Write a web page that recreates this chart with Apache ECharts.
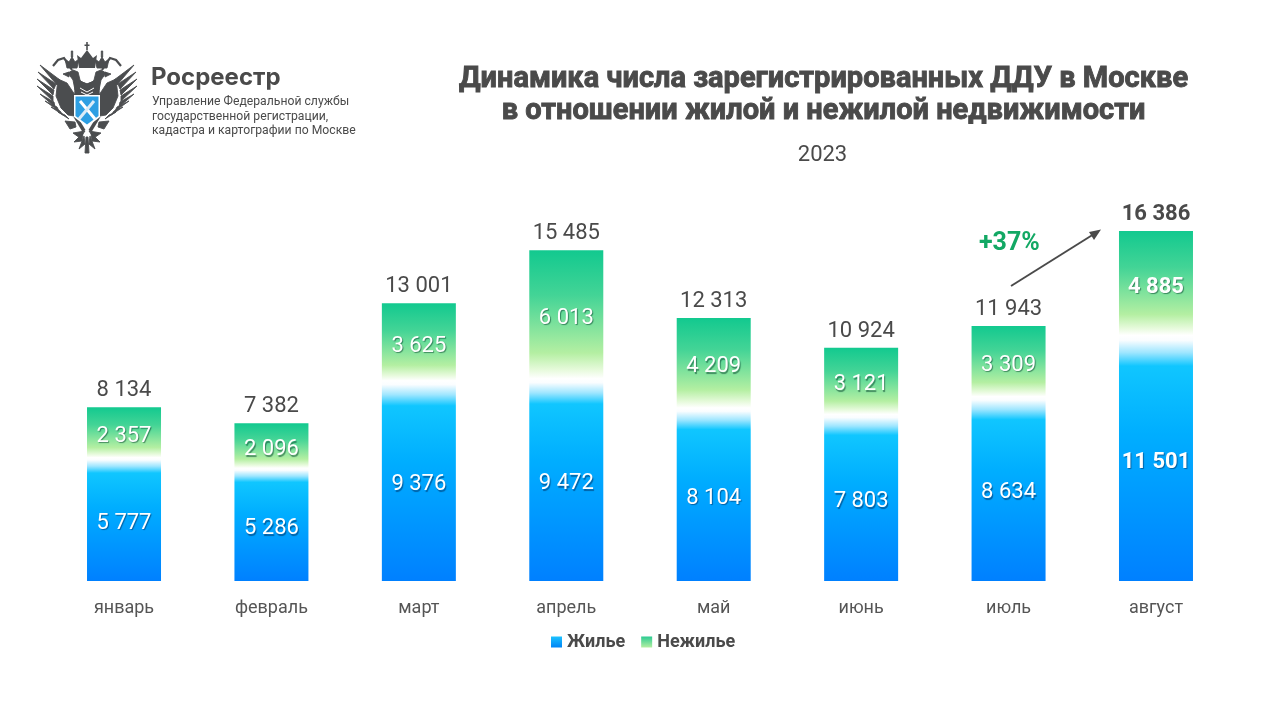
<!DOCTYPE html>
<html><head><meta charset="utf-8">
<style>html,body{margin:0;padding:0;background:#fff}#c{width:1280px;height:720px}</style>
<script src="https://cdn.jsdelivr.net/npm/echarts@6/dist/echarts.min.js"></script>
</head><body><div id="c"></div>
<script>
const months = ['январь','февраль','март','апрель','май','июнь','июль','август'];
const housing = [5777,5286,9376,9472,8104,7803,8634,11501];
const nonHousing = [2357,2096,3625,6013,4209,3121,3309,4885];
const totals = [8134,7382,13001,15485,12313,10924,11943,16386];
const titleText = 'Динамика числа зарегистрированных ДДУ в Москве\nв отношении жилой и нежилой недвижимости';
const yearText = '2023';
const growthText = '+37%';

const FONT = 'Roboto,sans-serif';
const DARK = '#4a4a4a';
const fmt = v => String(v).replace(/\B(?=(\d{3})+$)/g, ' ');
const grad = stops => ({type:'linear',x:0,y:0,x2:0,y2:1,colorStops:stops.map(s=>({offset:s[0],color:s[1]}))});
const blueGrad = grad([[0,'#ffffff'],[0.02,'#fafdff'],[0.07,'#9fe6ff'],[0.125,'#10c6ff'],[0.4,'#00aeff'],[1,'#0080ff']]);
const greenGrad = grad([[0,'#12c98f'],[0.35,'#43d496'],[0.8,'#b4efa2'],[0.93,'#e6fadb'],[1,'#ffffff']]);
const last = months.length-1;
const inLabel = (v,i) => ({value:v,label:{fontWeight:i===last?'bold':'normal'}});

// Logo: decorative, drawn in pixel space and mirrored about the vertical axis
const AX = 87;
const logoColor = '#4b4d4f';
const poly = (pts,fill) => ({type:'polygon',silent:true,shape:{points:pts},style:{fill:fill||logoColor}});
const feather = pts => ({type:'polygon',silent:true,shape:{points:pts},style:{fill:logoColor,stroke:logoColor,lineWidth:0.9}});
const stroke = (pts,w,c) => ({type:'polyline',silent:true,shape:{points:pts},style:{fill:'none',stroke:c||logoColor,lineWidth:w}});
const mirror = pts => pts.map(p=>[2*AX-p[0],p[1]]);
const halfPolys = [
  // primary feathers
  [[40,65],[60,80],[57,85]],
  [[38,72],[56,84],[54,89]],
  [[37,79],[54,90],[53,95]],
  [[37,86],[53,96],[53,101]],
  [[40,94],[54,102],[55,107]],
  [[45,101],[57,107],[59,111]],
  [[51,107],[60,111],[63,115]],
  [[58,112],[65,115],[69,119]],
  // shoulder
  [[58,79],[67,83],[75,95],[74,116],[68,115],[61,108],[56,96]],
  // neck and body above shield
  [[75,79],[87,84],[99,79],[99,96],[75,96]],
  [[68,73],[73,70],[78,72],[80,80],[87,90],[75,90],[73,80]],
  // beak
  [[69,72],[63,74],[69,77]],
  // side crown
  [[67,68],[65,59],[69,62],[72,57],[75,62],[79,59],[77,68]],
  [[71.3,51],[72.7,51],[72.7,57],[71.3,57]],
  // claws and scepter side
  [[65,121],[75,122],[76,127],[70,129]],
  // tail fan
  [[73,133],[85,131],[80,138]],
  [[74,142],[83,133],[82,141]],
  [[79,149],[84,136],[85,144]],
  [[85,153],[86,137],[87,137],[87,153]]
];
const halfLines = [
  [[[53,66],[58,60],[64,58],[72,70]],2.2],
  [[[75,116],[84,131]],3.5]
];
const logoShapes = [];
halfPolys.forEach(p=>{logoShapes.push(feather(p)); logoShapes.push(feather(mirror(p)));});
halfLines.forEach(l=>{logoShapes.push(stroke(l[0],l[1])); logoShapes.push(stroke(mirror(l[0]),l[1]));});
logoShapes.push(
  // central crown and cross
  poly([[79,68],[77,55],[81,58],[87,50],[93,58],[97,55],[95,68]]),
  poly([[86.2,42],[87.8,42],[87.8,50],[86.2,50]]),
  poly([[84.5,44.5],[89.5,44.5],[89.5,46],[84.5,46]]),
  // white stripes on the neck
  stroke([[80,88],[87,92],[94,88]],1,'#ffffff'),
  stroke([[81,92],[87,95],[93,92]],1,'#ffffff'),
  // shield with white edge
  poly([[74,95],[100,95],[100,117],[87,127],[74,117]],'#ffffff'),
  poly([[75.5,96.5],[98.5,96.5],[98.5,116],[87,124.5],[75.5,116]],'#2d9fe3'),
  {type:'line',silent:true,shape:{x1:80,y1:101,x2:95,y2:119},style:{stroke:'#ffffff',lineWidth:3}},
  {type:'line',silent:true,shape:{x1:94,y1:101,x2:79,y2:119},style:{stroke:'#dcecf7',lineWidth:3}}
);

const chart = echarts.init(document.getElementById('c'));
const shadow = c => ({textShadowColor:c,textShadowBlur:1,textShadowOffsetX:1,textShadowOffsetY:1.5});
chart.setOption({
  backgroundColor:'#ffffff',
  animation:false,
  title:[
    {text:titleText,left:818.5,top:59,textAlign:'center',
     textStyle:{fontFamily:FONT,fontSize:29,fontWeight:'bold',color:DARK,lineHeight:32,textBorderColor:DARK,textBorderWidth:0.9}},
    {text:yearText,left:817.5,top:139,textAlign:'center',
     textStyle:{fontFamily:FONT,fontSize:22,fontWeight:'normal',color:DARK}}
  ],
  legend:{
    left:546,top:628,itemWidth:11,itemHeight:11,itemGap:16,icon:'rect',
    data:[
      {name:'Жилье',itemStyle:{color:grad([[0,'#1cc2ff'],[1,'#0084f5']])}},
      {name:'Нежилье',itemStyle:{color:grad([[0,'#2ccb92'],[1,'#b4efa2']])}}
    ],
    textStyle:{fontFamily:FONT,fontSize:18,fontWeight:'bold',color:DARK}
  },
  grid:{left:50.3,width:1179.4,top:196.5,height:384.5},
  xAxis:{type:'category',data:months,axisLine:{show:false},axisTick:{show:false},
    axisLabel:{margin:18,fontFamily:FONT,fontSize:18,color:'#555555'}},
  yAxis:{type:'value',min:0,max:18000,show:false},
  series:[
    {name:'Жилье',type:'bar',stack:'a',barWidth:74,data:housing.map(inLabel),itemStyle:{color:blueGrad},
     label:{show:true,position:'inside',offset:[0,4],formatter:p=>fmt(p.value),fontFamily:FONT,fontSize:22,color:'#ffffff',...shadow('rgba(0,40,90,0.55)')}},
    {name:'Нежилье',type:'bar',stack:'a',barWidth:74,data:nonHousing.map(inLabel),itemStyle:{color:greenGrad},
     label:{show:true,position:'inside',offset:[0,4],formatter:p=>fmt(p.value),fontFamily:FONT,fontSize:22,color:'#ffffff',...shadow('rgba(0,60,40,0.55)')}},
    {name:'Итого',type:'line',data:totals.map(inLabel),symbol:'circle',symbolSize:1,itemStyle:{color:'rgba(0,0,0,0)'},lineStyle:{opacity:0},silent:true,
     label:{show:true,position:'top',distance:5,formatter:p=>fmt(p.value),fontFamily:FONT,fontSize:22,color:DARK}}
  ],
  graphic:[
    {type:'group',silent:true,children:logoShapes},
    {type:'text',silent:true,left:151,top:66,style:{text:'Росреестр',font:'bold 24px Inter,Roboto,sans-serif',fill:DARK}},
    {type:'text',silent:true,left:152,top:95,style:{text:'Управление Федеральной службы\nгосударственной регистрации,\nкадастра и картографии по Москве',font:'12.2px Roboto,sans-serif',lineHeight:14.3,fill:DARK}},
    {type:'text',silent:true,left:979,top:231,style:{text:growthText,font:'bold 25px '+FONT,fill:'#12a864'}},
    {type:'line',silent:true,shape:{x1:1011,y1:286,x2:1094,y2:234},style:{stroke:DARK,lineWidth:2}},
    {type:'polygon',silent:true,shape:{points:[[1101,229.5],[1089,232],[1094,240]]},style:{fill:DARK}}
  ]
});
</script></body></html>
